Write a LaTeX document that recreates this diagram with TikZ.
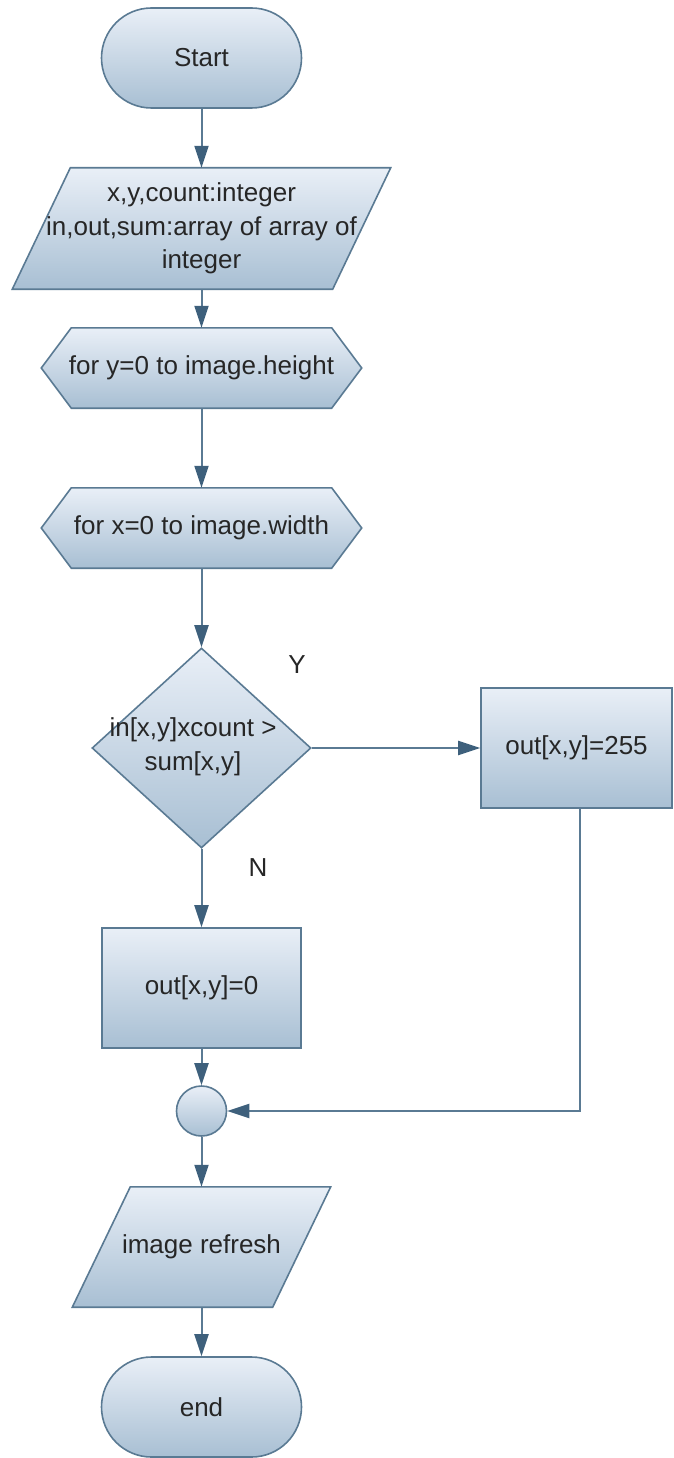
\documentclass[tikz,border=0pt]{standalone}
\usepackage{fontspec}
\setmainfont{Liberation Sans}
\usetikzlibrary{arrows.meta,shapes.geometric,calc}
\pgfdeclarelayer{bg}
\pgfsetlayers{bg,main}
\definecolor{edgeblue}{HTML}{5A7A93}
\definecolor{tipblue}{HTML}{3E607C}
\definecolor{shtop}{HTML}{E9EFF7}
\definecolor{shbot}{HTML}{A8BFD3}
\tikzset{
  shadebox/.style={draw=edgeblue, line width=1.6pt, top color=shtop, bottom color=shbot},
  lbl/.style={font=\fontsize{26}{33.5}\selectfont, text=black!85, align=center, inner sep=0pt},
  plain/.style={lbl, rectangle},
  term/.style={shadebox, lbl, rectangle, rounded corners=50pt, minimum width=200pt, minimum height=100pt},
  procbox/.style={shadebox, lbl, rectangle, minimum height=120pt},
  flow/.style={draw=edgeblue, line width=2pt, -{Triangle[length=22pt,width=14pt,color=tipblue]}},
}
\begin{document}
\begin{tikzpicture}[x=1pt,y=-1pt]
\useasboundingbox (0,0) rectangle (673,1458);

% main column
\node[term] (start) at (201.5,58) {Start};
\node[plain, minimum width=320pt, minimum height=121pt] (decl) at (201.5,228.5)
  {x,y,count:integer\\in,out,sum:array of array of\\integer};
\node[plain, minimum width=320pt, minimum height=80pt] (loopy) at (201.5,368) {for y=0 to image.height};
\node[plain, minimum width=320pt, minimum height=80pt] (loopx) at (201.5,528) {for x=0 to image.width};
\node[diamond, shadebox, minimum width=219pt, minimum height=200pt, inner sep=0pt] (test) at (201.5,748) {};
\node[lbl] (testtxt) at (193,747) {in[x,y]xcount >\\sum[x,y]};
\node[lbl] (ylab) at (297,665) {Y};
\node[lbl] (nlab) at (258,868) {N};
\node[procbox, minimum width=191pt] (set255) at (576.5,748) {out[x,y]=255};
\node[procbox, minimum width=199pt] (set0) at (201.5,988) {out[x,y]=0};
\node[circle, shadebox, minimum size=50pt, inner sep=0pt] (join) at (201.5,1111) {};
\node[plain, minimum width=200pt, minimum height=120pt] (refresh) at (201.5,1247) {image refresh};
\node[term] (stop) at (201.5,1407) {end};
\coordinate (drop) at (580,808);

% outlines of the data and loop shapes, behind their labels
\begin{pgfonlayer}{bg}
  \path[shadebox] ($(decl.north west)+(29,0)$) -- ($(decl.north east)+(29,0)$)
    -- ($(decl.south east)+(-29,0)$) -- ($(decl.south west)+(-29,0)$) -- cycle;
  \path[shadebox] (loopy.west) -- ($(loopy.north west)+(30,0)$) -- ($(loopy.north east)+(-30,0)$)
    -- (loopy.east) -- ($(loopy.south east)+(-30,0)$) -- ($(loopy.south west)+(30,0)$) -- cycle;
  \path[shadebox] (loopx.west) -- ($(loopx.north west)+(30,0)$) -- ($(loopx.north east)+(-30,0)$)
    -- (loopx.east) -- ($(loopx.south east)+(-30,0)$) -- ($(loopx.south west)+(30,0)$) -- cycle;
  \path[shadebox] ($(refresh.north west)+(29,0)$) -- ($(refresh.north east)+(29,0)$)
    -- ($(refresh.south east)+(-29,0)$) -- ($(refresh.south west)+(-29,0)$) -- cycle;
\end{pgfonlayer}

% connectors
\draw[flow] (start.south) -- (decl.north);
\draw[flow] (decl.south) -- (loopy.north);
\draw[flow] (loopy.south) -- (loopx.north);
\draw[flow] (loopx.south) -- (test.north);
\draw[flow] (test.east) -- (set255.west);
\draw[flow] (test.south) -- (set0.north);
\draw[flow] (set0.south) -- (join.north);
\draw[flow] (drop) |- (join.east);
\draw[flow] (join.south) -- (refresh.north);
\draw[flow] (refresh.south) -- (stop.north);
\end{tikzpicture}
\end{document}
